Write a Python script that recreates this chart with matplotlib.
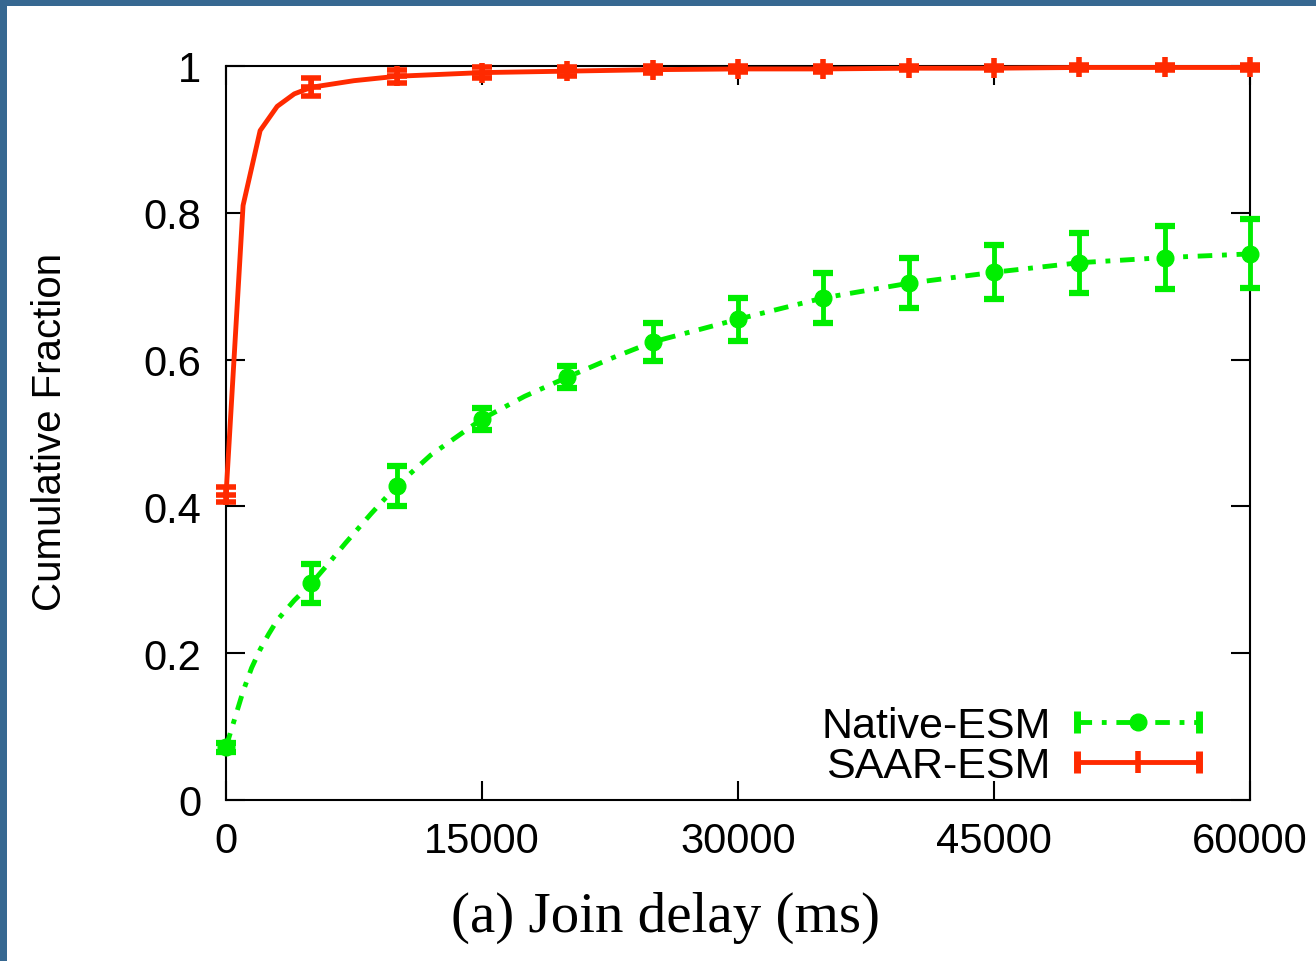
import matplotlib
matplotlib.use('Agg')
import matplotlib.pyplot as plt
from matplotlib.lines import Line2D
from matplotlib.legend_handler import HandlerLine2D, HandlerTuple
from matplotlib.patches import Rectangle

# ---------------- data ----------------
# SAAR-ESM: CDF curve and error-bar points
saar_curve_x = [0, 1000, 2000, 3000, 4000, 5000, 7500, 10000, 15000, 20000,
                25000, 30000, 35000, 40000, 45000, 50000, 55000, 60000]
saar_curve_y = [0.415, 0.81, 0.912, 0.945, 0.962, 0.971, 0.980, 0.986, 0.991, 0.993,
                0.995, 0.996, 0.996, 0.997, 0.997, 0.998, 0.998, 0.998]
saar_pts_x = [0, 5000, 10000, 15000, 20000, 25000, 30000, 35000, 40000, 45000, 50000, 55000, 60000]
saar_pts_y = [0.416, 0.971, 0.986, 0.991, 0.993, 0.995, 0.996, 0.996, 0.997, 0.997, 0.998, 0.998, 0.998]
saar_err = [0.010, 0.012, 0.009, 0.008, 0.006, 0.005, 0.004, 0.004, 0.003, 0.003, 0.003, 0.003, 0.003]

# Native-ESM: CDF curve and error-bar points
native_curve_x = [0, 500, 1000, 1500, 2000, 2500, 3000, 4000, 5000, 6000, 7000, 8500, 10000,
                  12000, 15000, 17500, 20000, 22500, 25000, 30000, 35000, 40000, 45000,
                  50000, 55000, 60000]
native_curve_y = [0.072, 0.110, 0.148, 0.180, 0.205, 0.226, 0.245, 0.272, 0.295, 0.322,
                  0.350, 0.390, 0.428, 0.470, 0.519, 0.550, 0.576, 0.601, 0.624, 0.655,
                  0.684, 0.704, 0.719, 0.732, 0.739, 0.744]
native_pts_x = [0, 5000, 10000, 15000, 20000, 25000, 30000, 35000, 40000, 45000, 50000, 55000, 60000]
native_pts_y = [0.072, 0.295, 0.428, 0.519, 0.576, 0.624, 0.655, 0.684, 0.704, 0.719, 0.732, 0.739, 0.744]
native_err = [0.006, 0.026, 0.027, 0.015, 0.015, 0.026, 0.029, 0.034, 0.034, 0.037, 0.041, 0.043, 0.047]

x_ticks = [0, 15000, 30000, 45000, 60000]
y_ticks = [0, 0.2, 0.4, 0.6, 0.8, 1.0]
y_tick_labels = ['0', '0.2', '0.4', '0.6', '0.8', '1']
series_names = ['Native-ESM', 'SAAR-ESM']

# ---------------- style ----------------
RED = '#ff2a00'
GREEN = '#00ee00'
BORDER = '#376891'
SANS = ['Liberation Sans', 'DejaVu Sans']
SERIF = ['Liberation Serif', 'DejaVu Serif']
LW = 3.5
DASH = (3, 2, 1, 2)

fig = plt.figure(figsize=(13.16, 9.62), dpi=100, facecolor=BORDER)
fig.patches.append(Rectangle((7 / 1316, 0), 1, 1 - 7 / 962, transform=fig.transFigure,
                             facecolor='white', edgecolor='none', zorder=-10))

ax = fig.add_axes([226 / 1316, 1 - 801 / 962, 1024 / 1316, 734 / 962])
ax.set_xlim(0, 60000)
ax.set_ylim(0, 1)

# Native-ESM
ax.plot(native_curve_x, native_curve_y, color=GREEN, lw=LW, dashes=DASH, zorder=3)
ax.errorbar(native_pts_x, native_pts_y, yerr=native_err, fmt='o', color=GREEN, ms=12,
            elinewidth=LW, capsize=7, capthick=4.5, zorder=4, clip_on=False)

# SAAR-ESM
ax.plot(saar_curve_x, saar_curve_y, color=RED, lw=LW, zorder=5, clip_on=False)
ax.errorbar(saar_pts_x, saar_pts_y, yerr=saar_err, fmt='+', color=RED, ms=15, mew=4,
            elinewidth=LW, capsize=7, capthick=4.5, zorder=6, clip_on=False)

ax.set_xticks(x_ticks)
ax.set_xticklabels([str(v) for v in x_ticks])
ax.set_yticks(y_ticks)
ax.set_yticklabels(y_tick_labels)
ax.tick_params(direction='in', length=14, width=1.5, top=True, right=True,
               labelsize=30, colors='black')
ax.tick_params(axis='x', pad=15)
ax.tick_params(axis='y', pad=18)
for lab in ax.get_xticklabels() + ax.get_yticklabels():
    lab.set_family(SANS)
for sp in ax.spines.values():
    sp.set_linewidth(1.5)
    sp.set_color('black')

fig.text(50 / 1316, 1 - 432 / 962, 'Cumulative Fraction', rotation=90, ha='center',
         va='center', fontsize=29, family=SANS)
fig.text(666 / 1316, 1 - 918 / 962, '(a) Join delay (ms)', ha='center', va='center',
         fontsize=41, family=SERIF)

# legend (gnuplot style: caps at ends, point in the middle)
g_line = Line2D([], [], color=GREEN, lw=LW, dashes=DASH)
g_caps = Line2D([], [], color=GREEN, ls='none', marker='|', ms=16, mew=5)
g_dot = Line2D([], [], color=GREEN, ls='none', marker='o', ms=12)
r_line = Line2D([], [], color=RED, lw=LW)
r_caps = Line2D([], [], color=RED, ls='none', marker='|', ms=16, mew=5)
r_mid = Line2D([], [], color=RED, ls='none', marker='|', ms=16, mew=4)

leg = ax.legend([(g_line, g_caps, g_dot), (r_line, r_caps, r_mid)], series_names,
                handler_map={tuple: HandlerTuple(ndivide=1, pad=0),
                             g_caps: HandlerLine2D(numpoints=2, marker_pad=0),
                             r_caps: HandlerLine2D(numpoints=2, marker_pad=0)},
                numpoints=1, markerfirst=False, frameon=False, loc='lower right',
                bbox_to_anchor=(0.98, -0.022), prop={'family': SANS, 'size': 31},
                handlelength=2.85, handletextpad=0.6, labelspacing=0.0,
                borderaxespad=0.3)

fig.savefig('out.png', dpi=100, facecolor=fig.get_facecolor())
